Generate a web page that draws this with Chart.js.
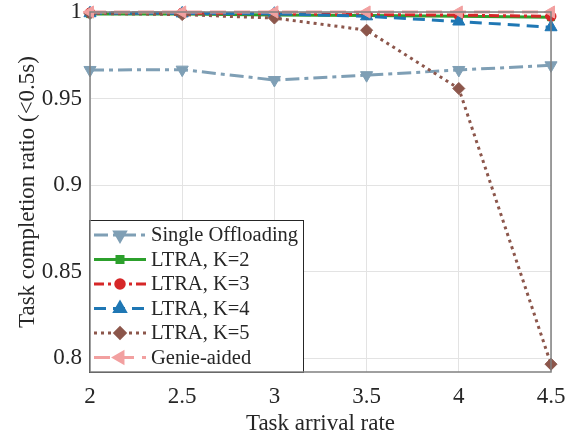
<!DOCTYPE html>
<html>
<head>
<meta charset="utf-8">
<script src="https://cdn.jsdelivr.net/npm/chart.js@4"></script>
<style>
  html, body { margin: 0; padding: 0; background: #fff; }
  #wrap { width: 574px; height: 440px; }
</style>
</head>
<body>
<div id="wrap"><canvas id="chart" width="574" height="440"></canvas></div>
<script>
// data
const arrivalRates = [2, 2.5, 3, 3.5, 4, 4.5];
const yTicks = [0.8, 0.85, 0.9, 0.95, 1];
const seriesNames = ['Single Offloading', 'LTRA, K=2', 'LTRA, K=3', 'LTRA, K=4', 'LTRA, K=5', 'Genie-aided'];
const singleOffloading = [0.9665, 0.9667, 0.9607, 0.9635, 0.9665, 0.9692];
const ltraK2 = [0.9988, 0.9988, 0.9982, 0.998, 0.9975, 0.997];
const ltraK3 = [0.9995, 0.9994, 0.999, 0.9985, 0.9982, 0.9975];
const ltraK4 = [0.9993, 0.9992, 0.999, 0.9975, 0.9945, 0.9912];
const ltraK5 = [0.9992, 0.9985, 0.9965, 0.9895, 0.9558, 0.7965];
const genieAided = [1, 1, 1, 1, 1, 1];

const serif = '"Liberation Serif", "DejaVu Serif", serif';

const toPts = (vals) => vals.map((v, i) => ({ x: arrivalRates[i], y: v }));

const styles = [
    { color: '#7f9fb5', dash: [14, 5, 4, 5], point: 'triangle', rot: 180, r: 7 },
    { color: '#2ca02c', dash: [], point: 'rect', rot: 0, r: 5 },
    { color: '#d62728', dash: [10, 4, 3, 4], point: 'circle', rot: 0, r: 5 },
    { color: '#1f77b4', dash: [12, 7], point: 'triangle', rot: 0, r: 7 },
    { color: '#8c564b', dash: [3, 4], point: 'rectRot', rot: 0, r: 6 },
    { color: '#f2a0a0', dash: [16, 8], point: 'triangle', rot: -90, r: 7 }
];
const allValues = [singleOffloading, ltraK2, ltraK3, ltraK4, ltraK5, genieAided];

const datasets = allValues.map((vals, i) => ({
    label: seriesNames[i],
    data: toPts(vals),
    borderColor: styles[i].color,
    backgroundColor: styles[i].color,
    borderWidth: 3,
    borderDash: styles[i].dash,
    pointStyle: styles[i].point,
    rotation: styles[i].rot,
    pointRadius: styles[i].r,
    pointBorderWidth: 1,
    tension: 0,
    clip: false,
    order: 5 - i
}));

// legend drawn inside the plot, bottom-left, MATLAB style
const boxLegend = {
    id: 'boxLegend',
    afterDatasetsDraw(chart) {
        const ctx = chart.ctx;
        const a = chart.chartArea;
        const x0 = a.left - 1, w = 214, rowH = 24.5, h = 152;
        const y0 = a.bottom - h;
        ctx.save();
        ctx.fillStyle = '#fff';
        ctx.fillRect(x0, y0, w, h);
        ctx.strokeStyle = '#262626';
        ctx.lineWidth = 1;
        ctx.strokeRect(x0 + 0.5, y0 + 0.5, w, h);
        ctx.font = '20.5px ' + serif;
        ctx.textBaseline = 'middle';
        datasets.forEach((ds, i) => {
            const cy = y0 + 15 + i * rowH;
            ctx.strokeStyle = ds.borderColor;
            ctx.lineWidth = 3;
            ctx.setLineDash(ds.borderDash);
            ctx.beginPath();
            ctx.moveTo(x0 + 5, cy);
            ctx.lineTo(x0 + 57, cy);
            ctx.stroke();
            ctx.setLineDash([]);
            ctx.fillStyle = ds.backgroundColor;
            Chart.helpers.drawPoint(ctx, {
                pointStyle: ds.pointStyle, rotation: ds.rotation,
                radius: ds.pointRadius * 0.85, borderWidth: 1
            }, x0 + 31, cy);
            ctx.fillStyle = '#262626';
            ctx.fillText(ds.label, x0 + 62, cy + 1);
        });
        ctx.restore();
    },
    afterDraw(chart) {
        const ctx = chart.ctx;
        const a = chart.chartArea;
        ctx.save();
        ctx.strokeStyle = '#808080';
        ctx.lineWidth = 1.5;
        ctx.strokeRect(a.left, a.top, a.right - a.left, a.bottom - a.top);
        ctx.restore();
    }
};

new Chart(document.getElementById('chart'), {
    type: 'line',
    data: { datasets },
    options: {
        responsive: false,
        animation: false,
        layout: { padding: { left: 0, right: 23, top: 12, bottom: 2 } },
        plugins: { legend: { display: false }, tooltip: { enabled: false } },
        scales: {
            x: {
                type: 'linear',
                min: 2,
                max: 4.5,
                afterFit: (s) => { s.height = 66; s.paddingLeft = 0; s.paddingRight = 0; },
                ticks: {
                    stepSize: 0.5,
                    color: '#262626',
                    font: { family: serif, size: 23 },
                    padding: 11,
                    maxRotation: 0,
                    callback: (v) => String(v)
                },
                grid: { color: '#e3e3e3', drawTicks: false },
                border: { display: false },
                title: {
                    display: true,
                    text: 'Task arrival rate',
                    color: '#262626',
                    font: { family: serif, size: 23 },
                    padding: { top: 0, bottom: 0 }
                }
            },
            y: {
                min: 0.792,
                max: 1,
                afterBuildTicks: (s) => { s.ticks = yTicks.map(v => ({ value: v })); },
                afterFit: (s) => { s.width = 90; s.paddingTop = 0; s.paddingBottom = 0; },
                ticks: {
                    color: '#262626',
                    font: { family: serif, size: 23 },
                    padding: 8,
                    callback: (v) => String(v)
                },
                grid: { color: '#e3e3e3', drawTicks: false },
                border: { display: false },
                title: {
                    display: true,
                    text: 'Task completion ratio (<0.5s)',
                    color: '#262626',
                    font: { family: serif, size: 23 },
                    padding: { top: 14, bottom: 0 }
                }
            }
        }
    },
    plugins: [boxLegend]
});
</script>
</body>
</html>
